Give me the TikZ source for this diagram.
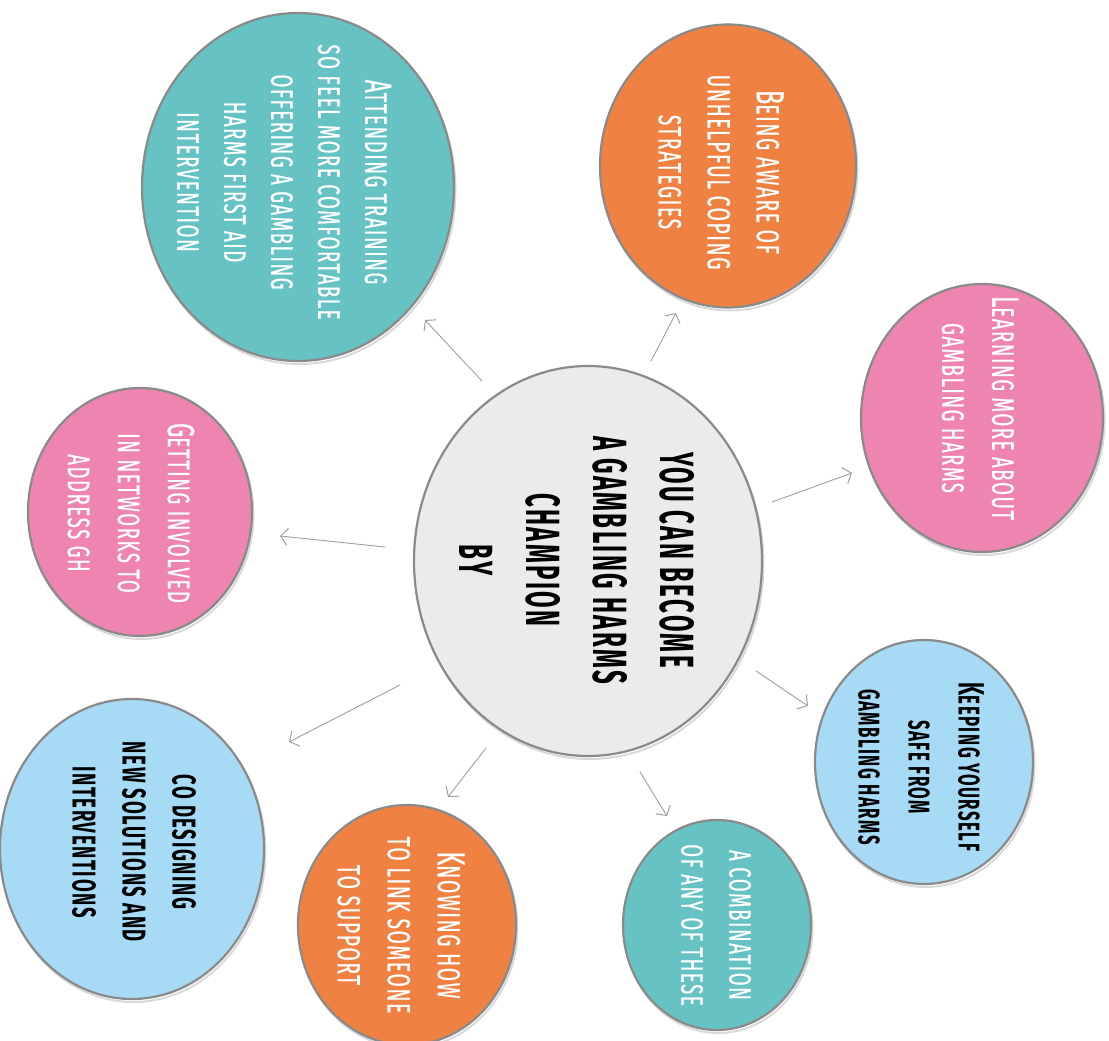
\documentclass[tikz,border=0pt]{standalone}
\usepackage{fontspec}
\usetikzlibrary{shapes.geometric,arrows.meta}
\newfontfamily\amf{Fira Sans}[FakeStretch=0.6, LetterSpace=5, FakeBold=0.6]
\newfontfamily\amfb{Fira Sans}[FakeStretch=0.56, LetterSpace=5]
\newfontfamily\amfc{Fira Sans}[FakeStretch=0.5, LetterSpace=5]
\newcommand\FirstL[1]{\scalebox{1.22}{#1}}
\definecolor{cteal}{HTML}{67C2C3}
\definecolor{corange}{HTML}{EF8243}
\definecolor{cpink}{HTML}{EE84B0}
\definecolor{cblue}{HTML}{A7DBF5}
\definecolor{cgrey}{HTML}{EBEBEB}
\tikzset{
  bubble/.style={ellipse, inner sep=0pt, draw=gray!92, line width=2.2pt,
    preaction={draw=gray!30, line width=2pt, transform canvas={shift={(1.5pt,-3pt)}}}},
  lbl/.style={rotate=-90, align=center, inner sep=0pt, font=\amf},
  whitetxt/.style={lbl, text=white},
  blacktxt/.style={lbl, text=black},
  conn/.style={draw=gray!75, line width=0.9pt, line cap=round,
    -{Straight Barb[length=7pt,width=17pt,line width=1pt]}}
}
\begin{document}
\begin{tikzpicture}[x=1pt,y=1pt]
\useasboundingbox (0,0) rectangle (1109,-1041);
% bubbles
\node[bubble, fill=cteal, minimum width=312, minimum height=348] (att) at (298,-187) {};
\node[bubble, fill=corange, minimum width=256, minimum height=283] (aware) at (728,-166) {};
\node[bubble, fill=cpink, minimum width=242, minimum height=268] (learn) at (982,-418) {};
\node[bubble, fill=cgrey, minimum width=348, minimum height=390] (ctr) at (588,-561) {};
\node[bubble, fill=cpink, minimum width=224, minimum height=248] (net) at (140,-512) {};
\node[bubble, fill=cblue, minimum width=218, minimum height=244] (safe) at (924,-762) {};
\node[bubble, fill=cblue, minimum width=264, minimum height=300] (codes) at (132,-849) {};
\node[bubble, fill=corange, minimum width=218, minimum height=240] (link) at (407,-925) {};
\node[bubble, fill=cteal, minimum width=188, minimum height=210] (comb) at (717,-925) {};
% labels
\node[whitetxt, font=\amf\fontsize{31}{47}\selectfont] (attT) at (284,-182)
  {\FirstL{A}TTENDING TRAINING\\SO FEEL MORE COMFORTABLE\\OFFERING A GAMBLING\\HARMS FIRST AID\\INTERVENTION};
\node[whitetxt, font=\amf\fontsize{32}{49}\selectfont] (awareT) at (721,-172)
  {\FirstL{B}EING AWARE OF\\UNHELPFUL COPING\\STRATEGIES};
\node[whitetxt, font=\amf\fontsize{31}{50}\selectfont] (learnT) at (980,-408)
  {\FirstL{L}EARNING MORE ABOUT\\GAMBLING HARMS};
\node[blacktxt, font=\amfc\bfseries\fontsize{48}{67}\selectfont] (ctrT) at (577,-560)
  {YOU CAN BECOME\\A GAMBLING HARMS\\CHAMPION\\BY};
\node[whitetxt, font=\amf\fontsize{31}{50}\selectfont] (netT) at (131,-513)
  {\FirstL{G}ETTING INVOLVED\\IN NETWORKS TO\\ADDRESS GH};
\node[blacktxt, font=\amfb\bfseries\fontsize{30}{50}\selectfont] (safeT) at (921,-767)
  {\FirstL{K}EEPING YOURSELF\\SAFE FROM\\GAMBLING HARMS};
\node[blacktxt, font=\amfb\bfseries\fontsize{33}{50}\selectfont] (codesT) at (134,-842)
  {CO DESIGNING\\NEW SOLUTIONS AND\\INTERVENTIONS};
\node[whitetxt, font=\amf\fontsize{32}{50}\selectfont] (linkT) at (401,-925)
  {\FirstL{K}NOWING HOW\\TO LINK SOMEONE\\TO SUPPORT};
\node[whitetxt, font=\amf\fontsize{31}{48}\selectfont] (combT) at (716,-925)
  {A COMBINATION\\OF ANY OF THESE};
% connector ends
\coordinate (s1) at (482,-381); \coordinate (e1) at (425,-320);
\coordinate (s2) at (651,-361); \coordinate (e2) at (676,-313);
\coordinate (s3) at (772,-502); \coordinate (e3) at (852,-473);
\coordinate (s4) at (385,-547); \coordinate (e4) at (280,-536);
\coordinate (s5) at (400,-685); \coordinate (e5) at (289,-742);
\coordinate (s6) at (486,-748); \coordinate (e6) at (448,-797);
\coordinate (s7) at (640,-772); \coordinate (e7) at (667,-816);
\coordinate (s8) at (756,-671); \coordinate (e8) at (808,-706);
\foreach \i in {1,...,8} { \draw[conn] (s\i) -- (e\i); }
\end{tikzpicture}
\end{document}
